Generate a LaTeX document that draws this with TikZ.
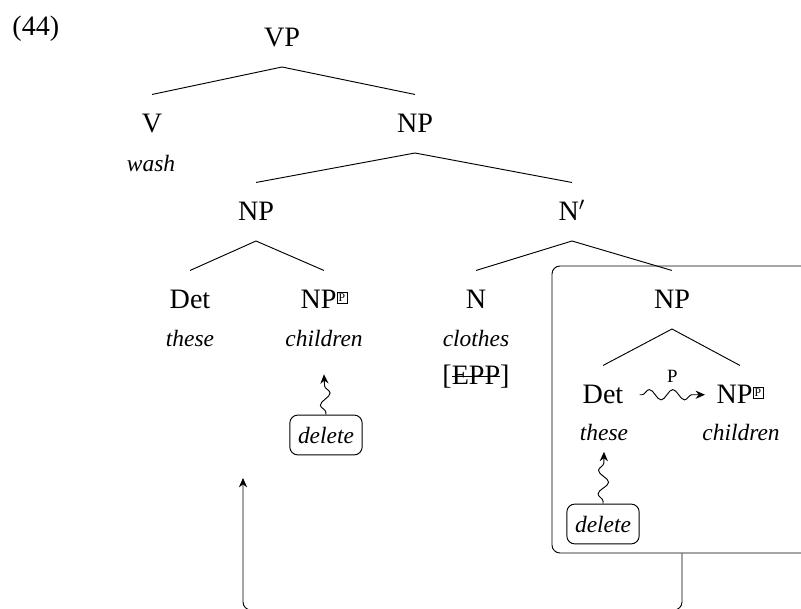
\documentclass[tikz,border=0pt]{standalone}
\usepackage{fontspec}
\setmainfont{Liberation Serif}
\usepackage{tikz}
\usetikzlibrary{arrows.meta,decorations.pathmorphing}
\newsavebox{\strikebox}
\newcommand{\strikeout}[1]{\sbox{\strikebox}{#1}\rlap{\usebox{\strikebox}}\rule[0.45\ht\strikebox]{\wd\strikebox}{0.4pt}}
\newcommand{\pbox}{\raisebox{0.55ex}{\fboxsep=0.6pt\fboxrule=0.3pt\fbox{\tiny P}}}
\tikzset{
	cat/.style={inner sep=0pt, outer xsep=0pt, outer ysep=0.3cm, text height=7.9pt, text depth=0pt, anchor=base},
	wd/.style={font=\itshape, anchor=base},
	delbox/.style={draw, rounded corners=0.12cm, font=\itshape, inner xsep=3.5pt, minimum height=17pt},
	snakearrow/.style={-{Stealth[length=4pt,width=3.5pt]}, decorate, decoration={snake, amplitude=2.2pt, segment length=10pt, pre length=1pt, post length=3pt}},
	movearrow/.style={rounded corners=0.12cm, -{Stealth[length=4pt,width=3.5pt]}}
}

\begin{document}
\begin{tikzpicture}[x=0.015cm, y=-0.015cm, font=\fontsize{12}{14}\selectfont]
			%%%%% START %%%%%
			\useasboundingbox (0, 0) rectangle (801, 609);
			
			\node[anchor=base west, inner sep=0pt] (exno) at (12, 36) {(44)};
			
			\node[cat] (VP) at (282, 47) {VP};
			\node[cat] (V) at (152, 133) {V};
			\node[wd] (wash) at (151, 172) {wash};
			\node[cat] (NPa) at (415, 133) {NP};
			
			\node[cat] (NPb) at (256, 221) {NP};
			\node[cat] (Nbar) at (572, 221) {N$'$};
			
			\node[cat] (Deta) at (190, 309) {Det};
			\node[wd] (thesea) at (190, 347) {these};
			\node[cat] (NPc) at (324, 309) {NP\pbox};
			\node[wd] (kidsa) at (324, 347) {children};
			\node[cat] (N) at (476, 309) {N};
			\node[wd] (clothes) at (476, 347) {clothes};
			\node[anchor=base] (epp) at (476, 385) {[\strikeout{EPP}]};
			\node[cat] (NPd) at (672, 309) {NP};
			
			\node[cat] (Detb) at (603, 404) {Det};
			\node[wd] (theseb) at (604, 441) {these};
			\node[cat] (NPe) at (740, 404) {NP\pbox};
			\node[wd] (kidsb) at (741, 441) {children};
			
			\draw (VP.south) -- (V.north);
			\draw (VP.south) -- (NPa.north);
			\draw (NPa.south) -- (NPb.north);
			\draw (NPa.south) -- (Nbar.north);
			\draw (NPb.south) -- (Deta.north);
			\draw (NPb.south) -- (NPc.north);
			\draw (Nbar.south) -- (N.north);
			\draw (Nbar.south) -- (NPd.north);
			\draw (NPd.south) -- (Detb.north);
			\draw (NPd.south) -- (NPe.north);
			
			\draw[snakearrow] ([xshift=7pt]Detb.east) -- node[above=1.5pt, font=\footnotesize] (plabel) {P} ([xshift=-5pt]NPe.west);
			
			\node[delbox] (dela) at (326, 435) {delete};
			\draw[snakearrow] (dela.north) -- ([yshift=-8pt]kidsa.south);
			
			\node[draw, rounded corners=0.12cm, minimum width=3.9cm, minimum height=4.305cm] (npbox) at (682, 409.5) {};
			\node[delbox] (delb) at (603, 524) {delete};
			\draw[snakearrow] (delb.north) -- ([yshift=-1pt]theseb.south);
			
			\coordinate (turn) at (243, 610);
			\coordinate (landing) at (243, 478);
			\draw[movearrow] (npbox.south) |- (turn) -- (landing);
			%%%%% END %%%%%
\end{tikzpicture}
\end{document}
